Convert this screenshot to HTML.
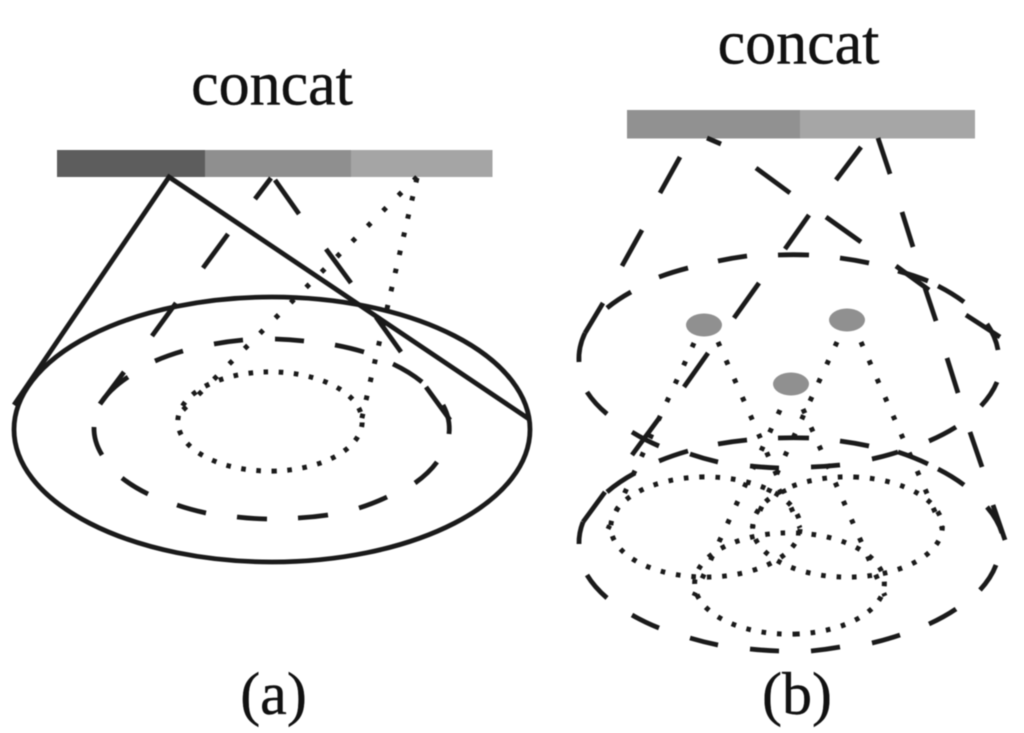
<!DOCTYPE html>
<html><head><meta charset="utf-8">
<style>html,body{margin:0;padding:0;background:#fff}svg{display:block;filter:blur(.4px)}</style></head>
<body>
<svg width="1024" height="733" viewBox="0 0 1024 733" xmlns="http://www.w3.org/2000/svg">
<g font-family="'Liberation Serif',serif" fill="#111" stroke="#111" stroke-width=".4" text-anchor="middle">
<text x="272" y="104.5" font-size="62">concat</text>
<text x="798.5" y="63.5" font-size="62">concat</text>
<text x="273.5" y="714" font-size="60">(a)</text>
<text x="797" y="714" font-size="60">(b)</text>
</g>
<rect x="57" y="150" width="148" height="27" fill="#5d5d5d"/>
<rect x="205" y="150" width="146" height="27" fill="#8f8f8f"/>
<rect x="351" y="150" width="141.5" height="27" fill="#a5a5a5"/>
<rect x="627" y="110" width="173" height="28.5" fill="#919191"/>
<rect x="800" y="110" width="175" height="28.5" fill="#a6a6a6"/>
<g fill="none" stroke="#1a1a1a">
<g stroke-width="4.8">
<ellipse cx="272" cy="429.5" rx="258" ry="132.5"/>
<path d="M14 405L169 177L529 419"/>
</g>
<g stroke-width="4.8">
<!-- (a) cone -->
<path d="M271 178L255 199M228 234L203 268M176 303L152 336M124 372L100 404"/>
<path d="M275 180L299 214M326 249L351 283M376 317L401 352M426 387L450 420"/>
<!-- (a) dashed ellipse -->
<path d="M102 455A178 90 0 0 1 94 427"/>
<path d="M100 404A178 90 0 0 1 128 377"/>
<path d="M155 361A178 90 0 0 1 183 351"/>
<path d="M214 344A178 90 0 0 1 243 340"/>
<path d="M275 339A178 90 0 0 1 304 341"/>
<path d="M335 345A178 90 0 0 1 364 352"/>
<path d="M393 364A178 90 0 0 1 422 382"/>
<path d="M443 405A178 90 0 0 1 449 434"/>
<path d="M437 462A178 90 0 0 1 415 483"/>
<path d="M387 497A178 90 0 0 1 359 508"/>
<path d="M328 515A178 90 0 0 1 298 518"/>
<path d="M267 519A178 90 0 0 1 237 517"/>
<path d="M206 513A178 90 0 0 1 177 505"/>
<path d="M148 494A178 90 0 0 1 122 478"/>
<!-- (b) diagonals -->
<path d="M680 157L660 193M642 230L622 266M603 303L585 333"/>
<path d="M707 138L721 144M756 168L790 193M826 217L861 242M896 266L929 290M966 315L1000 337"/>
<path d="M861 147L836 180M809 215L785 249M759 283L734 318M708 353L684 387M660 417L632 455M605 492L583 522"/>
<path d="M878 138L890 174M902 212L913 247M925 288L936 321M947 358L958 393M970 432L982 467M993 505L1005 540"/>
<!-- (b) upper dashed ellipse -->
<path d="M579 362A210 107 0 0 1 585 333"/>
<path d="M607 308A210 107 0 0 1 631 292"/>
<path d="M659 277A210 107 0 0 1 688 268"/>
<path d="M718 261A210 107 0 0 1 747 256"/>
<path d="M778 255A210 107 0 0 1 809 255"/>
<path d="M840 258A210 107 0 0 1 869 263"/>
<path d="M898 271A210 107 0 0 1 928 281"/>
<path d="M938 286A210 107 0 0 1 964 302"/>
<path d="M987 324A210 107 0 0 1 998 350"/>
<path d="M997 382A210 107 0 0 1 981 406"/>
<path d="M956 427A210 107 0 0 1 929 441"/>
<path d="M898 452A210 107 0 0 1 872 459"/>
<path d="M840 465A210 107 0 0 1 811 467"/>
<path d="M779 468A210 107 0 0 1 750 466"/>
<path d="M718 462A210 107 0 0 1 690 454"/>
<path d="M659 446A210 107 0 0 1 632 432"/>
<path d="M607 414A210 107 0 0 1 587 392"/>
<!-- (b) lower dashed ellipse -->
<path d="M579 544A213 107 0 0 1 583 522"/>
<path d="M607 492A213 107 0 0 1 635 473"/>
<path d="M659 461A213 107 0 0 1 688 451"/>
<path d="M718 444A213 107 0 0 1 747 440"/>
<path d="M778 438A213 107 0 0 1 809 438"/>
<path d="M840 441A213 107 0 0 1 869 446"/>
<path d="M898 452A213 107 0 0 1 928 464"/>
<path d="M938 469A213 107 0 0 1 964 485"/>
<path d="M987 507A213 107 0 0 1 1002 533"/>
<path d="M996 565A213 107 0 0 1 980 590"/>
<path d="M956 609A213 107 0 0 1 929 624"/>
<path d="M900 635A213 107 0 0 1 872 643"/>
<path d="M840 647A213 107 0 0 1 811 651"/>
<path d="M779 651A213 107 0 0 1 750 649"/>
<path d="M718 645A213 107 0 0 1 690 638"/>
<path d="M659 628A213 107 0 0 1 632 615"/>
<path d="M607 598A213 107 0 0 1 587 575"/>
</g>
<g stroke-width="5">
<!-- dotted ellipses -->
<path stroke-dasharray="4.6 10.55" d="M276 471A92 49.5 0 1 1 264 372A92 49.5 0 1 1 276 471"/>
<g stroke-dasharray="4.6 10.89">
<path d="M700 477A94.5 50 0 1 1 711 577A94.5 50 0 1 1 700 477"/>
<path d="M854.5 477A94.5 50 0 1 1 840.5 577A94.5 50 0 1 1 854.5 477"/>
<path d="M797 634A94.5 50.5 0 1 1 782 533A94.5 50.5 0 1 1 797 634"/>
</g>
<!-- dotted lines -->
<path stroke-dasharray="4.6 17.1" d="M417 177L172 421"/>
<path stroke-dasharray="4.6 14" d="M417 178L361 422"/>
<g stroke-dasharray="4.6 15.5">
<path d="M694 343L608 529"/>
<path d="M718 342L800 528"/>
<path d="M837 342L752 528"/>
<path d="M861 342L942 528"/>
<path d="M780 410L694 596"/>
<path d="M803 409L885 596"/>
</g>
</g>
</g>
<ellipse cx="704" cy="325" rx="18" ry="11.5" fill="#909090"/>
<ellipse cx="847" cy="320" rx="18" ry="11.5" fill="#909090"/>
<ellipse cx="791" cy="384" rx="18" ry="11.5" fill="#909090"/>
</svg>
</body></html>
